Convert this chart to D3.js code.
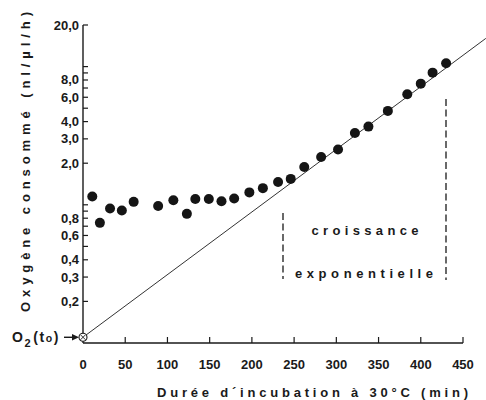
<!DOCTYPE html>
<html><head><meta charset="utf-8">
<script src="https://cdn.jsdelivr.net/npm/d3@7"></script>
<style>body{margin:0;background:#fff}svg{display:block}text{font-family:"Liberation Sans",Arial,sans-serif;font-weight:bold;fill:#1a1a1a}</style>
</head><body><svg id="c" width="486" height="400"></svg>
<script>
const minutes = [11,20,32,46,60,89,107,123,133,149,164,179,197,213,231,246,262,282,302,322,338,361,384,400,414,430];
const oxygen  = [1.15,0.74,0.94,0.91,1.05,0.98,1.08,0.86,1.10,1.10,1.06,1.11,1.23,1.32,1.46,1.54,1.88,2.22,2.51,3.31,3.68,4.78,6.31,7.53,9.04,10.57];
const xTicks = [0,50,100,150,200,250,300,350,400,450];
const yLabelTicks = [20,8,6,4,3,2,0.8,0.6,0.4,0.3,0.2];
const yLabelText = ["20,0","8,0","6,0","4,0","3,0","2,0","0,8","0,6","0,4","0,3","0,2"];
const yMinorTicks = [10,9,7,5,1,0.9,0.7,0.5];
const lineMinutes = [0,477];
const lineValues = [0.11,16];
const originPoint = {m:0, v:0.11};

const svg = d3.select("#c");
const x = d3.scaleLinear().domain([0,450]).range([83,463]);
const y = d3.scaleLog().domain([0.1,20]).range([343,25]);
const ink = "#1a1a1a";

// axes
svg.append("line").attr("x1",x(0)).attr("x2",x(450)).attr("y1",y(0.1)).attr("y2",y(0.1)).attr("stroke",ink).attr("stroke-width",1.4);
svg.append("line").attr("x1",x(0)).attr("x2",x(0)).attr("y1",y(0.1)).attr("y2",y(20)).attr("stroke",ink).attr("stroke-width",1.4);

svg.selectAll(".xt").data(xTicks.slice(1)).join("line")
  .attr("x1",d=>x(d)).attr("x2",d=>x(d)).attr("y1",y(0.1)).attr("y2",y(0.1)-6).attr("stroke",ink).attr("stroke-width",1.2);
svg.selectAll(".xl").data(xTicks).join("text")
  .attr("x",d=>x(d)).attr("y",369).attr("text-anchor","middle").attr("font-size",13).text(d=>d);

svg.selectAll(".yt").data(yLabelTicks.concat(yMinorTicks)).join("line")
  .attr("x1",x(0)).attr("x2",x(0)+5).attr("y1",d=>y(d)).attr("y2",d=>y(d)).attr("stroke",ink).attr("stroke-width",1.2);
svg.selectAll(".yl").data(yLabelTicks).join("text")
  .attr("x",79).attr("y",d=>y(d)+4.5).attr("text-anchor","end").attr("font-size",13).text((d,i)=>yLabelText[i]);

// fitted line
svg.append("line").attr("x1",x(lineMinutes[0])).attr("y1",y(lineValues[0]))
  .attr("x2",x(lineMinutes[1])).attr("y2",y(lineValues[1])).attr("stroke","#333").attr("stroke-width",1);

// origin marker
const ox = x(originPoint.m), oy = y(originPoint.v);
svg.append("circle").attr("cx",ox).attr("cy",oy).attr("r",4).attr("fill","#fff").attr("stroke",ink).attr("stroke-width",1.1);
svg.append("path").attr("d",`M${ox-2.5},${oy-2.5}L${ox+2.5},${oy+2.5}M${ox-2.5},${oy+2.5}L${ox+2.5},${oy-2.5}`).attr("stroke",ink).attr("stroke-width",0.9);

// label O2(to) ->
const lab = svg.append("text").attr("x",12).attr("y",oy+5).attr("font-size",14).attr("letter-spacing",1.6);
lab.append("tspan").text("O");
lab.append("tspan").attr("font-size",11).attr("dy",5).text("2");
lab.append("tspan").attr("dy",-5).attr("dx",1).text("(t");
lab.append("tspan").attr("font-size",10.5).text("o");
lab.append("tspan").text(")");
svg.append("line").attr("x1",64).attr("x2",75).attr("y1",oy).attr("y2",oy).attr("stroke",ink).attr("stroke-width",1.4);
svg.append("path").attr("d",`M${79},${oy}L${72},${oy-3.2}L${72},${oy+3.2}Z`).attr("fill",ink);

// points
svg.selectAll(".pt").data(minutes).join("circle")
  .attr("cx",d=>x(d)).attr("cy",(d,i)=>y(oxygen[i])).attr("r",5).attr("fill","#151515");

// dashed brackets
svg.append("line").attr("x1",283).attr("x2",283).attr("y1",213).attr("y2",279).attr("stroke",ink).attr("stroke-width",1.3).attr("stroke-dasharray","7,3.5");
svg.append("line").attr("x1",446).attr("x2",446).attr("y1",99).attr("y2",280).attr("stroke",ink).attr("stroke-width",1.3).attr("stroke-dasharray","7,3.5");

svg.append("text").attr("x",365).attr("y",235).attr("text-anchor","middle").attr("font-size",13)
  .attr("textLength",107).attr("lengthAdjust","spacing").text("croissance");
svg.append("text").attr("x",364).attr("y",278).attr("text-anchor","middle").attr("font-size",13)
  .attr("textLength",138).attr("lengthAdjust","spacing").text("exponentielle");

// axis titles
svg.append("text").attr("x",157).attr("y",397).attr("font-size",13)
  .attr("textLength",311).attr("lengthAdjust","spacing").text("Durée d´incubation à 30°C (min)");
svg.append("text").attr("transform","translate(30,312) rotate(-90)").attr("font-size",13)
  .attr("textLength",300).attr("lengthAdjust","spacing").text("Oxygène consommé  (nl/µl/h)");
</script></body></html>
